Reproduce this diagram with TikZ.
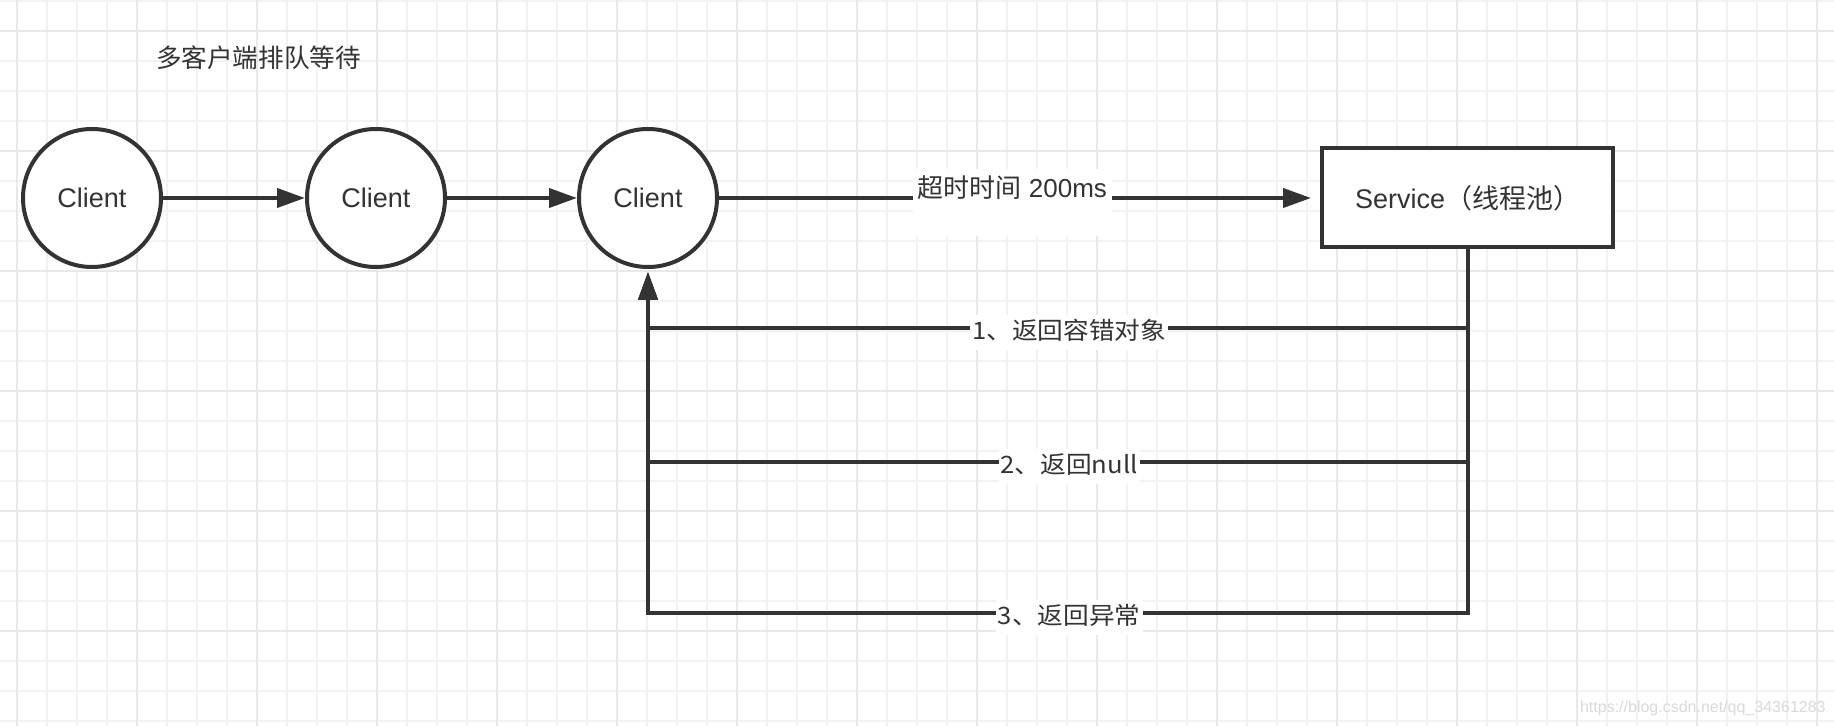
\documentclass[tikz,border=0pt]{standalone}
\usepackage{fontspec}
\setmainfont{Liberation Sans}
\newfontfamily\cjk{Noto Sans CJK SC}
\newfontfamily\cjkwide[FakeStretch=1.07]{Noto Sans CJK SC}
\usetikzlibrary{arrows.meta}
\definecolor{ink}{HTML}{333333}
\definecolor{gridminor}{HTML}{F2F2F2}
\definecolor{gridmajor}{HTML}{E8E8E8}
\definecolor{wm}{HTML}{DADADA}
\begin{document}
\begin{tikzpicture}[x=0.5pt,y=-0.5pt,
  line/.style={draw=ink, line width=2pt},
  arr/.style={line, -{Triangle[length=14pt,width=9.5pt]}},
  client/.style={circle, line, fill=white, minimum size=69pt, inner sep=0pt,
    font=\fontsize{13.5}{16}\selectfont, text=ink},
  svcbox/.style={rectangle, line, fill=white, minimum width=145.5pt, minimum height=49.5pt,
    inner sep=0pt, font=\fontsize{13.5}{16}\selectfont, text=ink},
  toplbl/.style={fill=white, text=ink, inner xsep=0pt, inner ysep=0pt, minimum width=99.5pt,
    text height=14.5pt, text depth=19pt, font=\fontsize{13}{16}\selectfont},
  rowlbl/.style={fill=white, text=ink, inner xsep=1pt, inner ysep=0pt,
    text height=12pt, text depth=5.5pt, font=\cjkwide\fontsize{12}{15}\selectfont},
  gminor/.style={draw=gridminor, line width=1pt},
  gmajor/.style={draw=gridmajor, line width=1.4pt}
]
\useasboundingbox (0,0) rectangle (1834,726);
\fill[white] (0,0) rectangle (1834,726);
% grid
\foreach \x in {17,47,...,1817} \draw[gminor] (\x,0) -- (\x,726);
\foreach \y in {1,31,...,721} \draw[gminor] (0,\y) -- (1834,\y);
\foreach \x in {17,137,...,1817} \draw[gmajor] (\x,0) -- (\x,726);
\foreach \y in {31,151,...,631} \draw[gmajor] (0,\y) -- (1834,\y);

% nodes
\node[text=ink, font=\cjk\fontsize{12.8}{15}\selectfont] (title) at (258.5,58) {多客户端排队等待};
\node[client] (c1) at (92,198) {Client};
\node[client] (c2) at (376,198) {Client};
\node[client] (c3) at (648,198) {Client};
\node[svcbox] (svc) at (1467.5,198) {Service{\cjk（线程池）}};

% forward arrows
\draw[arr] (c1) -- (c2);
\draw[arr] (c2) -- (c3);
\draw[arr, shorten >=4.5pt] (c3) -- node[toplbl, pos=0.488, anchor=base] {{\cjk 超时时间} 200ms} (svc);

% return paths
\coordinate (r1) at (0,328);
\coordinate (r2) at (0,462);
\coordinate (r3) at (0,613);
\draw[arr, shorten >=1.5pt] (svc.south) -- (svc.south |- r1)
  -- node[rowlbl, pos=0.486, yshift=-2.3pt] {1、返回容错对象} (c3.south |- r1) -- (c3.south);
\draw[arr, shorten >=1.5pt] (svc.south) -- (svc.south |- r2)
  -- node[rowlbl, pos=0.486, yshift=-2.3pt] {2、返回null} (c3.south |- r2) -- (c3.south);
\draw[arr, shorten >=1.5pt] (svc.south) -- (svc.south |- r3)
  -- node[rowlbl, pos=0.486, yshift=-2.3pt] {3、返回异常} (c3.south |- r3) -- (c3.south);

% watermark
\node[anchor=east, text=wm, font=\fontsize{8}{10}\selectfont, inner sep=0pt] (wmk) at (1826,708) {https://blog.csdn.net/qq\_34361283};
\end{tikzpicture}
\end{document}
